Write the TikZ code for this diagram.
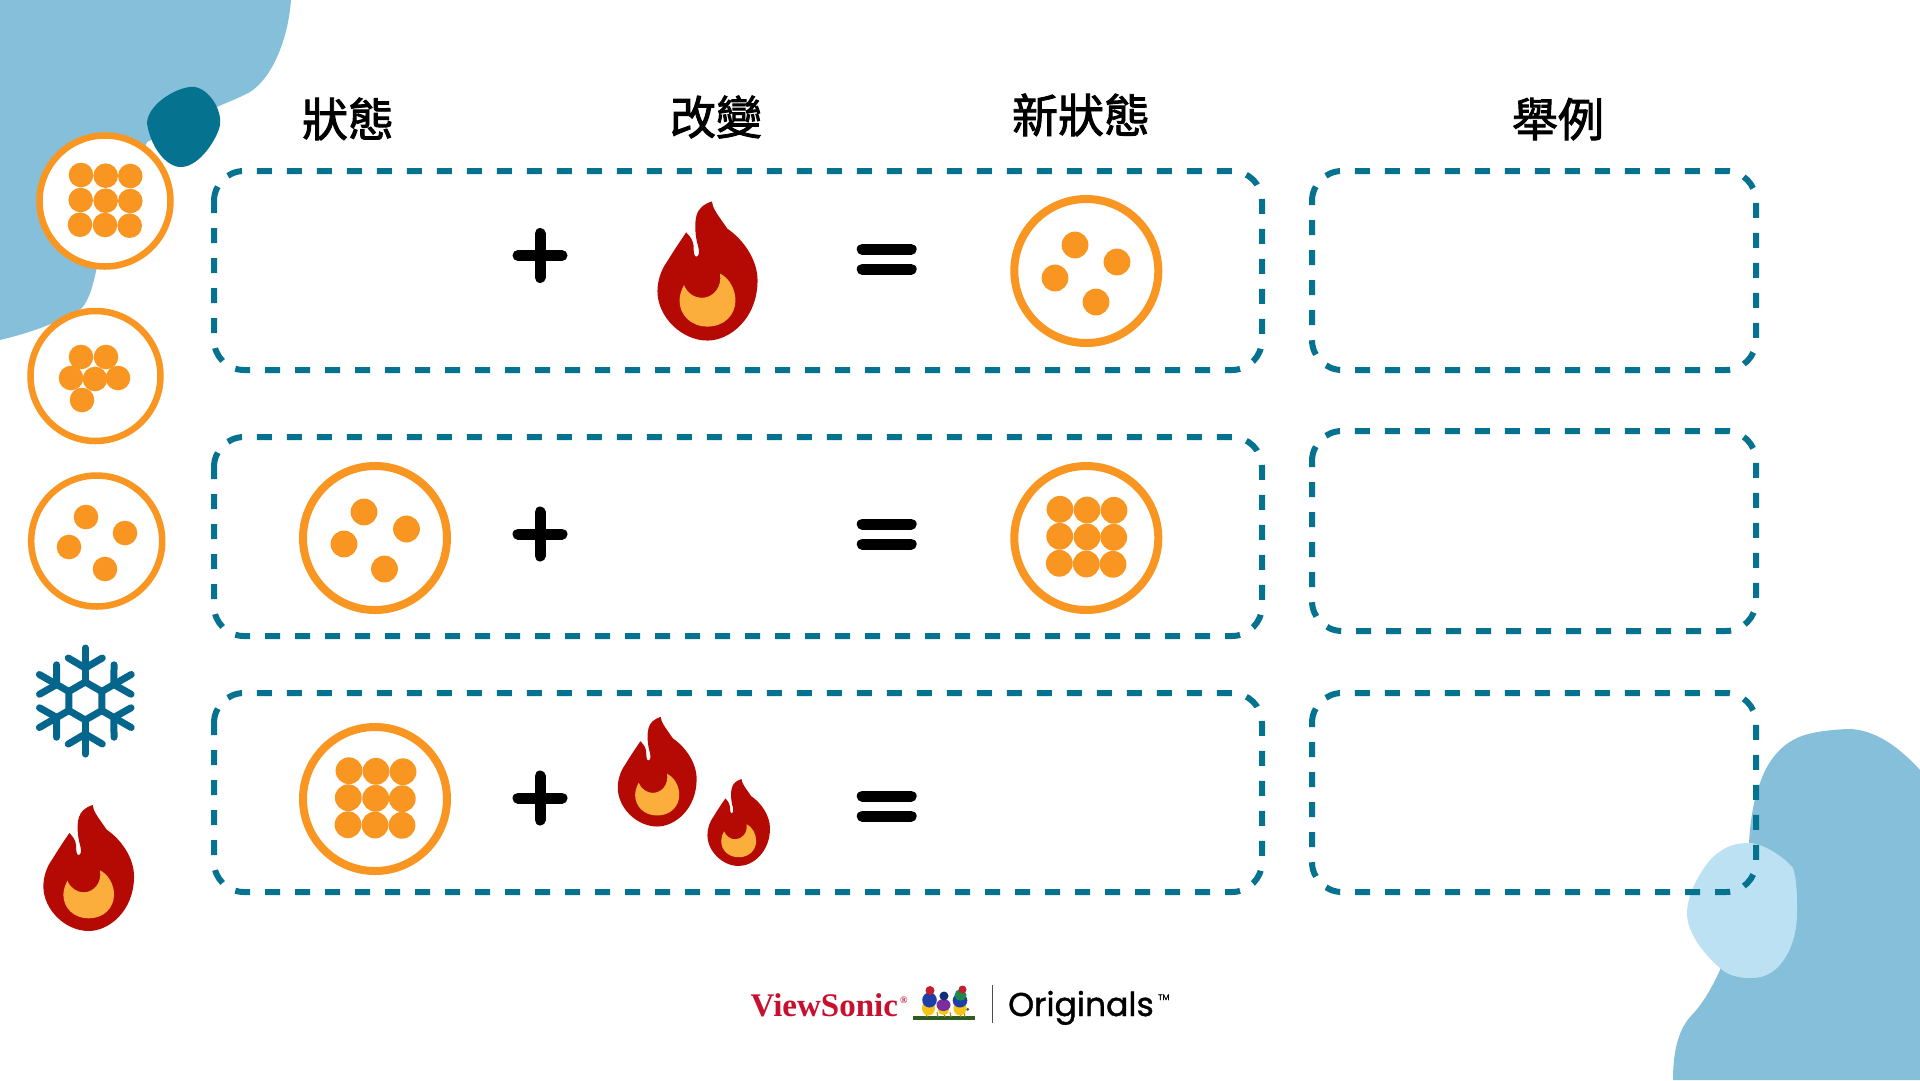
\documentclass[tikz,border=0pt]{standalone}
\usepackage{fontspec}
\newfontfamily\cjkfont[FakeBold=2]{Noto Sans CJK TC}
\newfontfamily\serifbold{Liberation Serif}
\newfontfamily\poppfont[FakeBold=1.2]{Poppins}
\definecolor{skyblob}{HTML}{85BFD9}
\definecolor{paleblob}{HTML}{BBE1F3}
\definecolor{tealdark}{HTML}{05738F}
\definecolor{flakeblue}{HTML}{05668D}
\definecolor{dotorange}{HTML}{F99621}
\definecolor{flamered}{HTML}{B50A04}
\definecolor{flameamber}{HTML}{FBAE3C}
\definecolor{vsred}{HTML}{C8102E}
\definecolor{birdblue}{HTML}{1E3FA8}
\definecolor{birdpurple}{HTML}{7B2D9E}
\definecolor{birdgreen}{HTML}{1E8A4A}
\definecolor{birdyellow}{HTML}{F7C414}
\definecolor{birdred}{HTML}{C21F2E}
\definecolor{branchgreen}{HTML}{2E5B22}
\tikzset{
  dashbox/.style={draw=tealdark,line width=6pt,dash pattern=on 15pt off 15pt},
  ring/.style={draw=dotorange,line width=#1,fill=white},
  dot/.style={fill=dotorange},
  header/.style={font=\cjkfont\fontsize{46}{54}\selectfont,text=black,inner sep=0pt},
  opstroke/.style={draw=black,line width=11pt,line cap=round},
  flakeline/.style={draw=flakeblue,line width=7pt,line cap=round,line join=round},
}
\newcommand{\dbox}[4]{%
  \path[dashbox] (#1,#2+30) .. controls +(0,-16.5) and +(-16.5,0) .. (#1+30,#2)
    -- (#3-30,#2) .. controls +(16.5,0) and +(0,-16.5) .. (#3,#2+30)
    -- (#3,#4-30) .. controls +(0,16.5) and +(16.5,0) .. (#3-30,#4)
    -- (#1+30,#4) .. controls +(-16.5,0) and +(0,16.5) .. (#1,#4-30) -- cycle;}
\newcommand{\flame}[3]{%
  \begin{scope}[shift={(#1,#2)},x=#3pt,y=-#3pt]
   \fill[flamered] (12,-189) .. controls (14,-170) and (24,-158) .. (54,-115)
     .. controls (98,-85) and (136,-30) .. (136,25)
     .. controls (136,130) and (60,189) .. (0,189)
     .. controls (-70,189) and (-136,125) .. (-136,55)
     .. controls (-136,25) and (-125,-5) .. (-110,-25)
     .. controls (-95,-50) and (-75,-80) .. (-58,-105)
     .. controls (-48,-95) and (-40,-85) .. (-38,-70)
     .. controls (-38,-50) and (-36,-39) .. (-31,-39)
     .. controls (-22,-39) and (-22,-52) .. (-25,-65)
     .. controls (-35,-100) and (-35,-130) .. (-30,-150)
     .. controls (-25,-170) and (-10,-182) .. (12,-189) -- cycle;
   \fill[flameamber] (34,7) .. controls (60,20) and (76,50) .. (76,80)
     .. controls (76,120) and (45,151) .. (0,151)
     .. controls (-45,151) and (-76,120) .. (-76,80)
     .. controls (-76,65) and (-70,50) .. (-64,38)
     .. controls (-55,60) and (-35,73) .. (-16,73)
     .. controls (15,73) and (40,45) .. (34,7) -- cycle;
  \end{scope}}
\newcommand{\plusmark}[2]{\draw[opstroke] (#1-22,#2) -- (#1+22,#2) (#1,#2-22) -- (#1,#2+22);}
\newcommand{\equalmark}[2]{\draw[opstroke] (#1-24.5,#2-10) -- (#1+24.5,#2-10) (#1-24.5,#2+10) -- (#1+24.5,#2+10);}
\newcommand{\molec}[6]{% x y strokewidth radius dotradius list
  \draw[ring=#3pt] (#1,#2) circle[radius=#4];
  \foreach \px/\py in {#6} {\fill[dot] (\px,\py) circle[radius=#5];}}
\begin{document}
\begin{tikzpicture}[x=1pt,y=-1pt]
\useasboundingbox (0,0) rectangle (1920,1080);
\fill[white] (0,0) rectangle (1920,1080);
% blobs
\fill[skyblob] (0,0) -- (291,0) .. controls (288,40) and (272,78) .. (250,92)
  .. controls (235,100) and (225,103) .. (217,107)
  -- (147,142) -- (97,267) .. controls (93,285) and (90,298) .. (82,308)
  .. controls (55,325) and (25,334) .. (0,340) -- cycle;
\fill[tealdark] (147,123) .. controls (148,103) and (180,85) .. (195,87)
  .. controls (210,90) and (222,110) .. (220,125)
  .. controls (218,137) and (200,167) .. (181,167)
  .. controls (165,167) and (150,145) .. (147,123) -- cycle;
\fill[skyblob] (1920,770) .. controls (1900,748) and (1875,729) .. (1848,729)
  .. controls (1825,730) and (1805,733) .. (1793,740)
  .. controls (1775,750) and (1765,768) .. (1760,783)
  .. controls (1753,800) and (1750,825) .. (1749,843)
  -- (1720,970) .. controls (1710,992) and (1700,1007) .. (1690,1017)
  .. controls (1677,1032) and (1673,1055) .. (1673,1080) -- (1920,1080) -- cycle;
\fill[paleblob] (1750,843) .. controls (1765,844) and (1785,858) .. (1793,868)
  .. controls (1797,880) and (1797,895) .. (1797,913)
  .. controls (1797,935) and (1790,955) .. (1777,968)
  .. controls (1768,976) and (1760,978) .. (1750,978)
  .. controls (1738,978) and (1727,975) .. (1720,968)
  .. controls (1708,958) and (1687,935) .. (1687,913)
  .. controls (1687,895) and (1700,870) .. (1713,857)
  .. controls (1725,846) and (1735,843) .. (1750,843) -- cycle;
% dashed boxes
\dbox{214}{171}{1262}{370}
\dbox{214}{437}{1262}{636}
\dbox{214}{693}{1262}{892}
\dbox{1312}{171}{1756}{370}
\dbox{1312}{431}{1756}{631}
\dbox{1312}{693}{1756}{892}
% headers
\node[header] (h1) at (348,119) {狀態};
\node[header] (h2) at (716,117) {改變};
\node[header] (h3) at (1081,115) {新狀態};
\node[header] (h4) at (1558,119) {舉例};
% legend column
\molec{105}{201}{6.5}{65.5}{12.3}{81/175,105.7/175.7,130.3/176,80.7/200,105.7/200.7,130.3/201,80/224.7,105/225,129.7/225.7}
\molec{95.5}{376}{6.5}{65}{12.3}{81/357,106/357,71/378,95/379,118/378,82/400}
\molec{96.7}{541}{6.5}{65.5}{12.3}{86/517,125/533,69/547,105/569}
% snowflake
\begin{scope}[shift={(85.3,701)}]
 \draw[flakeline] (0,-19) -- (16.5,-9.5) -- (16.5,9.5) -- (0,19) -- (-16.5,9.5) -- (-16.5,-9.5) -- cycle;
 \foreach \a in {0,60,...,300} {
  \begin{scope}[rotate=\a]
   \draw[flakeline] (0,-19) -- (0,-53);
   \draw[flakeline] (-17,-43) -- (0,-33) -- (17,-43);
  \end{scope}}
\end{scope}
\flame{88.7}{868}{0.3333}
% row 1
\plusmark{540}{255.5}
\flame{707.5}{271}{0.368}
\equalmark{886.7}{259.3}
\molec{1086.3}{271}{8}{72}{13.4}{1075/245,1117/262,1055/278,1096/302}
% row 2
\molec{375}{538}{8}{72}{13.4}{364/512,406.5/529,344/544,384.5/569}
\plusmark{540}{534}
\equalmark{886.7}{534}
\molec{1086.3}{538}{8}{72}{13.4}{1060/509.3,1087/510,1114/510.3,1059.7/536.3,1087/537,1113.7/537.3,1059.3/563.3,1086.3/564,1113/564.3}
% row 3
\molec{375}{799}{8}{72}{13.4}{349/770.7,376/771.3,403/771.7,348.3/797.7,375.7/798.3,402.3/798.7,348/824.7,375/825,402/825.3}
\plusmark{540}{798}
\flame{657.2}{771.7}{0.29}
\flame{738.7}{822.5}{0.23}
\equalmark{886.7}{806}
% logo
\node[anchor=base west,inner sep=0pt,text=vsred,font=\serifbold\bfseries\fontsize{33}{33}\selectfont] (vs) at (750.5,1016) {ViewSonic};
\node[anchor=base west,inner sep=0pt,text=vsred,font=\serifbold\bfseries\fontsize{10}{10}\selectfont] (vsr) at (900,1003.5) {®};
% branch and birds
\draw[branchgreen,line width=4pt] (913,1017.5) -- (975,1017.5);
\foreach \bx in {926,937,944,950,960,964} {\draw[birdyellow!70!black,line width=1pt] (\bx,1012) -- (\bx+1,1017);}
% bird 1
\fill[birdyellow] (928.5,1008) ellipse[x radius=6.5,y radius=7.5];
\fill[birdblue] (929.5,1000) ellipse[x radius=7.3,y radius=7.5];
\fill[birdred] (930,990.5) circle[radius=4.5];
% bird 2
\fill[birdyellow] (943.5,1010) ellipse[x radius=5.5,y radius=5];
\fill[birdpurple] (943.5,1005) ellipse[x radius=7,y radius=6];
\fill[birdblue!70!black] (944,996) circle[radius=4.5];
% bird 3
\fill[birdyellow] (960,1008) ellipse[x radius=6.5,y radius=7.5];
\fill[birdblue] (960,1000.5) ellipse[x radius=7.3,y radius=7];
\fill[birdgreen] (960.5,995) ellipse[x radius=6,y radius=5.5];
\fill[birdred] (962.5,989.5) circle[radius=4];
\fill[black!70] (967.7,1009.3) circle[radius=1.5];
\draw[black!70,line width=1.3pt] (992.7,985) -- (992.7,1023);
\node[anchor=base west,inner sep=0pt,text=black,font=\poppfont\fontsize{33}{33}\selectfont] (orig) at (1008,1016) {Originals};
\node[anchor=base west,inner sep=0pt,text=black,font=\poppfont\fontsize{8}{8}\selectfont] (tm) at (1158,1000) {TM};
\end{tikzpicture}
\end{document}
